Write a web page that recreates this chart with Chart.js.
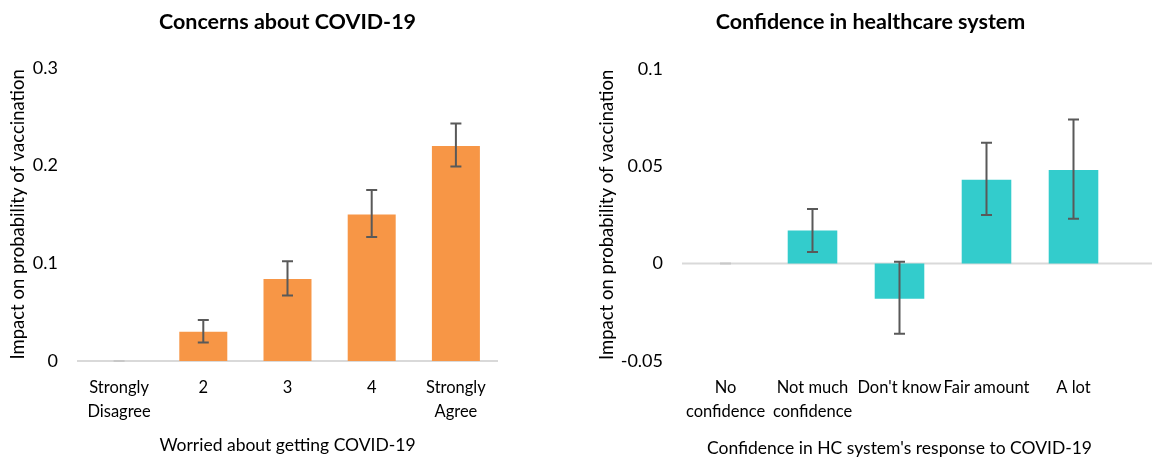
<!DOCTYPE html>
<html>
<head>
<meta charset="utf-8">
<script src="https://cdn.jsdelivr.net/npm/chart.js@4/dist/chart.umd.min.js"></script>
<style>
    html, body { margin: 0; padding: 0; background: #fff; }
    #wrap { position: relative; width: 1152px; height: 460px; overflow: hidden; }
    .box { position: absolute; top: 0; height: 460px; }
    #boxLeft { left: 0; width: 575px; }
    #boxRight { left: 589px; width: 563px; }
</style>
</head>
<body>
<div id="wrap">
    <div class="box" id="boxLeft"><canvas id="worried"></canvas></div>
    <div class="box" id="boxRight"><canvas id="confidence"></canvas></div>
</div>
<script>
// Concerns about COVID-19
var worriedLabels = [['Strongly', 'Disagree'], '2', '3', '4', ['Strongly', 'Agree']];
var worriedValues = [0, 0.030, 0.084, 0.150, 0.220];
var worriedLow = [0, 0.019, 0.067, 0.127, 0.199];
var worriedHigh = [0, 0.042, 0.102, 0.175, 0.243];
var worriedTickValues = [0, 0.1, 0.2, 0.3];
var worriedTickLabels = ['0', '0.1', '0.2', '0.3'];

// Confidence in healthcare system
var confLabels = [['No', 'confidence'], ['Not much', 'confidence'], "Don't know", 'Fair amount', 'A lot'];
var confValues = [0, 0.017, -0.018, 0.043, 0.048];
var confLow = [0, 0.006, -0.036, 0.025, 0.023];
var confHigh = [0, 0.028, 0.001, 0.062, 0.074];
var confTickValues = [-0.05, 0, 0.05, 0.1];
var confTickLabels = ['-0.05', '0', '0.05', '0.1'];

(function() {
    "use strict";

    var FONT = 'Lato, "Open Sans", sans-serif';

    // zero line + error bars, drawn from the chart's own scales
    var errorBars = {
        id: 'errorBars',
        beforeDatasetsDraw: function(chart, args, opts) {
            var ctx = chart.ctx, a = chart.chartArea;
            var y = chart.scales.y.getPixelForValue(0);
            ctx.save();
            ctx.strokeStyle = '#d9d9d9';
            ctx.lineWidth = 2;
            ctx.beginPath();
            ctx.moveTo(a.left, y);
            ctx.lineTo(opts.extendRight ? chart.width : a.right, y);
            ctx.stroke();
            ctx.restore();
        },
        afterDatasetsDraw: function(chart, args, opts) {
            var ctx = chart.ctx;
            var ys = chart.scales.y;
            var meta = chart.getDatasetMeta(0);
            ctx.save();
            meta.data.forEach(function(bar, i) {
                var lo = opts.low[i], hi = opts.high[i];
                var x = bar.x, y1 = ys.getPixelForValue(lo), y2 = ys.getPixelForValue(hi);
                ctx.strokeStyle = (lo === hi) ? '#c8c8c8' : '#595959';
                ctx.lineWidth = 2;
                ctx.beginPath();
                ctx.moveTo(x, y1); ctx.lineTo(x, y2);
                ctx.moveTo(x - 5.5, y1); ctx.lineTo(x + 5.5, y1);
                ctx.moveTo(x - 5.5, y2); ctx.lineTo(x + 5.5, y2);
                ctx.stroke();
            });
            ctx.restore();
        }
    };

    function makeChart(el, cfg) {
        return new Chart(el, {
            type: 'bar',
            data: {
                labels: cfg.labels,
                datasets: [{
                    data: cfg.values,
                    backgroundColor: cfg.color,
                    borderWidth: 0,
                    categoryPercentage: 1,
                    barPercentage: 0.57
                }]
            },
            plugins: [errorBars],
            options: {
                responsive: false,
                animation: false,
                layout: { padding: 0 },
                plugins: {
                    legend: { display: false },
                    tooltip: { enabled: false },
                    title: {
                        display: true,
                        text: cfg.title,
                        color: '#000',
                        font: { family: FONT, size: 21.5, weight: 'bold' },
                        padding: { top: 9, bottom: cfg.titleGap }
                    },
                    errorBars: { low: cfg.low, high: cfg.high, extendRight: cfg.extendRight }
                },
                scales: {
                    x: {
                        grid: { display: false, drawTicks: false },
                        border: { display: false },
                        ticks: {
                            color: '#000',
                            font: { family: FONT, size: 16.5, lineHeight: 1.45 },
                            padding: 15,
                            maxRotation: 0,
                            autoSkip: false
                        },
                        title: {
                            display: true,
                            text: cfg.xTitle,
                            color: '#000',
                            font: { family: FONT, size: 17.5 },
                            padding: { top: 0, bottom: cfg.xTitleBottom }
                        },
                        afterFit: function(s) { s.height = 99; }
                    },
                    y: {
                        min: cfg.tickValues[0],
                        max: cfg.tickValues[cfg.tickValues.length - 1],
                        grid: { display: false, drawTicks: false },
                        border: { display: false },
                        afterBuildTicks: function(s) {
                            s.ticks = cfg.tickValues.map(function(v) { return { value: v }; });
                        },
                        ticks: {
                            color: '#000',
                            font: { family: FONT, size: 18 },
                            padding: 19,
                            callback: function(v, i) { return cfg.tickLabels[i]; }
                        },
                        title: {
                            display: true,
                            text: 'Impact on probability of vaccination',
                            color: '#000',
                            font: { family: FONT, size: 18.5 },
                            padding: { top: 7, bottom: 0 }
                        },
                        afterFit: function(s) { s.width = cfg.yWidth; }
                    },
                    // empty right-hand gutter, so the title stays centred on the whole panel
                    gutter: {
                        type: 'linear',
                        position: 'right',
                        grid: { display: false, drawTicks: false },
                        border: { display: false },
                        ticks: { display: false },
                        afterFit: function(s) { s.width = cfg.padRight; }
                    }
                }
            }
        });
    }

    var left = document.getElementById('worried');
    left.width = 575; left.height = 460;
    makeChart(left, {
        labels: worriedLabels,
        values: worriedValues,
        low: worriedLow,
        high: worriedHigh,
        tickValues: worriedTickValues,
        tickLabels: worriedTickLabels,
        color: '#f79646',
        title: 'Concerns about COVID-19',
        xTitle: 'Worried about getting COVID-19',
        yWidth: 77,
        padRight: 77,
        titleGap: 33,
        xTitleBottom: 4,
        extendRight: false
    });

    var right = document.getElementById('confidence');
    right.width = 563; right.height = 460;
    makeChart(right, {
        labels: confLabels,
        values: confValues,
        low: confLow,
        high: confHigh,
        tickValues: confTickValues,
        tickLabels: confTickLabels,
        color: '#33cccc',
        title: 'Confidence in healthcare system',
        xTitle: "Confidence in HC system's response to COVID-19",
        yWidth: 93,
        padRight: 35,
        titleGap: 34,
        xTitleBottom: 1,
        extendRight: true
    });

})();
</script>
</body>
</html>
